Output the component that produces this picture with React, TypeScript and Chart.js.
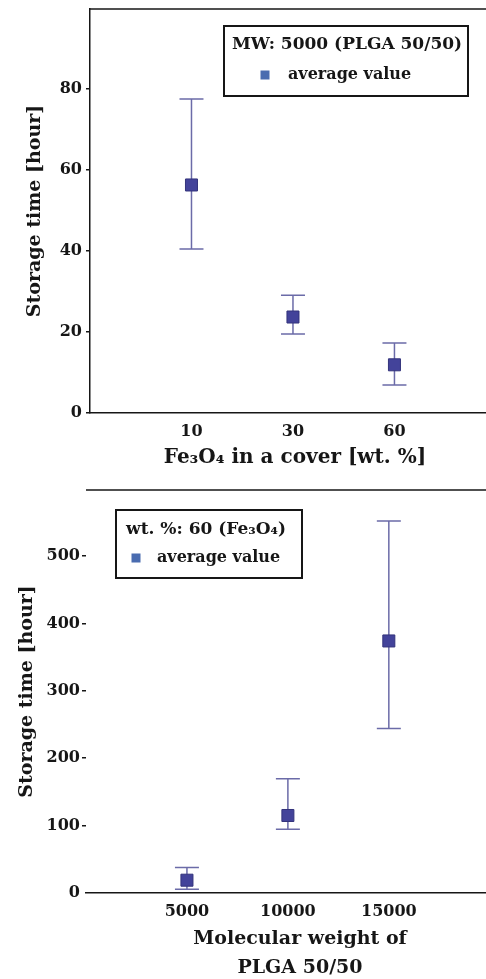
import React, { useEffect, useRef } from 'react';
import { Chart, registerables } from 'chart.js';

Chart.register(...registerables);

// ---- Top panel: Fe3O4 content ----
const fe3o4Labels = ['10', '30', '60'];
const fe3o4Positions = [1, 2, 3];
const fe3o4Mean = [56.3, 23.7, 11.9];
const fe3o4Upper = [77.5, 29.1, 17.3];
const fe3o4Lower = [40.5, 19.5, 6.9];
const fe3o4YTicks = [0, 20, 40, 60, 80];

// ---- Bottom panel: molecular weight ----
const mwLabels = ['5000', '10000', '15000'];
const mwPositions = [1, 2, 3];
const mwMean = [19, 115, 374];
const mwUpper = [38, 169.5, 552];
const mwLower = [5.5, 94.5, 244];
const mwYTicks = [0, 100, 200, 300, 400, 500];

const FONT = "'DejaVu Serif', 'Liberation Serif', serif";
const INK = '#161616';
const MARKER_FILL = '#43439a';
const MARKER_EDGE = '#34347c';
const BAR_COLOR = '#6b6ba8';
const LEGEND_MARKER = '#4a6cb0';

const errorBarPlugin = {
  id: 'errorBars',
  beforeDatasetsDraw(chart: any) {
    const { ctx } = chart;
    const x = chart.scales.x;
    const y = chart.scales.y;
    const ds = chart.data.datasets[0];
    ctx.save();
    ctx.strokeStyle = BAR_COLOR;
    ctx.lineWidth = 1.5;
    const cap = 12;
    ds.data.forEach((pt: any) => {
      const px = x.getPixelForValue(pt.x);
      const top = y.getPixelForValue(pt.yMax);
      const bot = y.getPixelForValue(pt.yMin);
      ctx.beginPath();
      ctx.moveTo(px, top);
      ctx.lineTo(px, bot);
      ctx.moveTo(px - cap, top);
      ctx.lineTo(px + cap, top);
      ctx.moveTo(px - cap, bot);
      ctx.lineTo(px + cap, bot);
      ctx.stroke();
    });
    ctx.restore();
  },
};

const topFramePlugin = {
  id: 'topFrame',
  afterDraw(chart: any) {
    const { ctx, chartArea } = chart;
    ctx.save();
    ctx.strokeStyle = INK;
    ctx.lineWidth = 1.5;
    ctx.beginPath();
    ctx.moveTo(chartArea.left, chartArea.top);
    ctx.lineTo(chart.width, chartArea.top);
    ctx.stroke();
    ctx.restore();
  },
};

const boxLegendPlugin = {
  id: 'boxLegend',
  afterDraw(chart: any, _args: any, o: any) {
    const ctx = chart.ctx;
    ctx.save();
    ctx.fillStyle = '#ffffff';
    ctx.fillRect(o.x, o.y, o.w, o.h);
    ctx.strokeStyle = INK;
    ctx.lineWidth = 2;
    ctx.strokeRect(o.x, o.y, o.w, o.h);
    ctx.fillStyle = INK;
    ctx.textBaseline = 'middle';
    ctx.textAlign = 'center';
    ctx.font = `bold ${o.titleSize}px ${FONT}`;
    ctx.fillText(o.title, o.titleX, o.titleY);
    ctx.fillStyle = LEGEND_MARKER;
    ctx.fillRect(o.markerX - 4.5, o.itemY - 4.5, 9, 9);
    ctx.fillStyle = INK;
    ctx.textAlign = 'left';
    ctx.font = `bold ${o.itemSize}px ${FONT}`;
    ctx.fillText(chart.data.datasets[0].label, o.textX, o.itemY);
    ctx.restore();
  },
};

function buildConfig(p: {
  labels: string[];
  positions: number[];
  mean: number[];
  upper: number[];
  lower: number[];
  yTicks: number[];
  xMax: number;
  yMax: number;
  yWidth: number;
  xHeight: number;
  padTop: number;
  yBorder: boolean;
  hideZeroTick: boolean;
  yTickPad: number;
  yTitlePad: number;
  xTitle: string | string[];
  xTitlePad: number;
  xTitleLineHeight: number;
  legend: any;
}) {
  return {
    type: 'scatter' as const,
    data: {
      datasets: [
        {
          label: 'average value',
          data: p.positions.map((x, i) => ({ x, y: p.mean[i], yMin: p.lower[i], yMax: p.upper[i] })),
          pointStyle: 'rect',
          pointRadius: 8.5,
          pointHoverRadius: 8.5,
          backgroundColor: MARKER_FILL,
          borderColor: MARKER_EDGE,
          borderWidth: 1,
        },
      ],
    },
    options: {
      responsive: false,
      animation: false as const,
      layout: { autoPadding: false, padding: { top: p.padTop, left: 0, right: 0, bottom: 0 } },
      plugins: {
        legend: { display: false },
        tooltip: { enabled: false },
        boxLegend: p.legend,
      },
      scales: {
        x: {
          type: 'linear' as const,
          min: 0,
          max: p.xMax,
          afterBuildTicks: (s: any) => {
            s.ticks = p.positions.map((v) => ({ value: v }));
          },
          afterFit: (s: any) => {
            s.height = p.xHeight;
            s.paddingLeft = 0;
            s.paddingRight = 0;
          },
          ticks: {
            autoSkip: false,
            maxRotation: 0,
            padding: 9,
            color: INK,
            font: { family: FONT, size: 16, weight: 'bold' as const },
            callback: (v: any) => {
              const i = p.positions.indexOf(Number(v));
              return i >= 0 ? p.labels[i] : '';
            },
          },
          grid: { display: false, drawTicks: false, tickLength: 0 },
          border: { display: true, color: INK, width: 1.5 },
          title: {
            display: true,
            text: p.xTitle,
            color: INK,
            font: { family: FONT, size: Array.isArray(p.xTitle) ? 19 : 20, weight: 'bold' as const, lineHeight: p.xTitleLineHeight },
            padding: { top: 0, bottom: p.xTitlePad },
          },
        },
        y: {
          type: 'linear' as const,
          min: 0,
          max: p.yMax,
          afterBuildTicks: (s: any) => {
            s.ticks = p.yTicks.map((v) => ({ value: v }));
          },
          afterFit: (s: any) => {
            s.width = p.yWidth;
            s.paddingTop = 0;
            s.paddingBottom = 0;
          },
          ticks: {
            padding: p.yTickPad,
            color: INK,
            font: { family: FONT, size: 16, weight: 'bold' as const },
          },
          grid: {
            display: true,
            drawOnChartArea: false,
            drawTicks: true,
            tickLength: 4,
            color: (c: any) => (p.hideZeroTick && c.tick && c.tick.value === 0 ? 'rgba(0,0,0,0)' : INK),
            lineWidth: 1.5,
          },
          border: { display: p.yBorder, color: INK, width: 1.5 },
          title: {
            display: true,
            text: 'Storage time [hour]',
            color: INK,
            font: { family: FONT, size: 19, weight: 'bold' as const },
            padding: { top: p.yTitlePad, bottom: 0 },
          },
        },
      },
    },
    plugins: [errorBarPlugin, boxLegendPlugin, topFramePlugin],
  };
}

export default function App() {
  const topRef = useRef<HTMLCanvasElement>(null);
  const botRef = useRef<HTMLCanvasElement>(null);

  useEffect(() => {
    const top = new Chart(
      topRef.current as HTMLCanvasElement,
      buildConfig({
        labels: fe3o4Labels,
        positions: fe3o4Positions,
        mean: fe3o4Mean,
        upper: fe3o4Upper,
        lower: fe3o4Lower,
        yTicks: fe3o4YTicks,
        xMax: 4.04,
        yMax: 99.75,
        yWidth: 90,
        xHeight: 77,
        padTop: 9,
        yBorder: true,
        hideZeroTick: false,
        yTickPad: 4,
        yTitlePad: 24,
        xTitle: 'Fe₃O₄ in a cover [wt. %]',
        xTitlePad: 20,
        xTitleLineHeight: 1.2,
        legend: {
          x: 224, y: 26, w: 244, h: 70,
          title: 'MW: 5000 (PLGA 50/50)', titleSize: 17, titleX: 347, titleY: 45,
          markerX: 265, itemY: 75, textX: 288, itemSize: 16,
        },
      }) as any
    );
    const bottom = new Chart(
      botRef.current as HTMLCanvasElement,
      buildConfig({
        labels: mwLabels,
        positions: mwPositions,
        mean: mwMean,
        upper: mwUpper,
        lower: mwLower,
        yTicks: mwYTicks,
        xMax: 4.24,
        yMax: 598,
        yWidth: 86,
        xHeight: 96,
        padTop: 1,
        yBorder: false,
        hideZeroTick: true,
        yTickPad: 2,
        yTitlePad: 16,
        xTitle: ['Molecular weight of', 'PLGA 50/50'],
        xTitlePad: 7,
        xTitleLineHeight: 1.5,
        legend: {
          x: 116, y: 21, w: 186, h: 68,
          title: 'wt. %: 60 (Fe₃O₄)', titleSize: 17, titleX: 206, titleY: 41,
          markerX: 136, itemY: 69, textX: 157, itemSize: 16,
        },
      }) as any
    );
    return () => {
      top.destroy();
      bottom.destroy();
    };
  }, []);

  return (
    <div
      style={{
        position: 'absolute',
        left: 0,
        top: 0,
        width: 486,
        height: 979,
        overflow: 'hidden',
        background: '#ffffff',
      }}
    >
      <canvas ref={topRef} width={500} height={490} style={{ position: 'absolute', left: 0, top: 0 }} />
      <canvas ref={botRef} width={514} height={500} style={{ position: 'absolute', left: 0, top: 489 }} />
    </div>
  );
}
